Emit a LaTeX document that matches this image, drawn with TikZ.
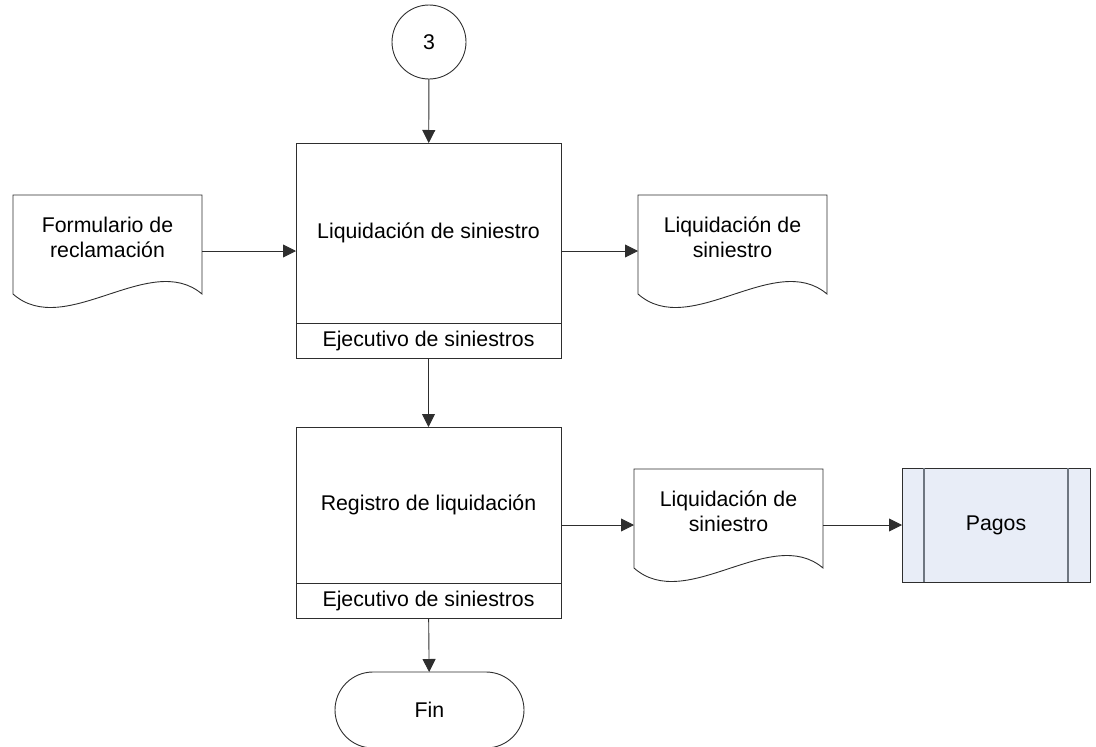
\documentclass[tikz,border=0pt]{standalone}
\usepackage{fontspec}
\setmainfont{Liberation Sans}
\usetikzlibrary{arrows.meta,positioning,shapes.misc}

\definecolor{linea}{HTML}{2E2E2E}
\definecolor{relleno}{HTML}{E8EDF7}
\definecolor{divisor}{HTML}{6E7680}

\tikzset{
  base/.style={draw=linea, line width=0.9pt, font=\fontsize{21.3}{25}\selectfont,
    align=center, inner sep=0pt, outer sep=0pt},
  proceso/.style={base, minimum width=265pt},
  rol/.style={base, minimum width=265pt, minimum height=35pt},
  documento/.style={base, draw=none, minimum width=189pt, minimum height=112pt, text depth=28pt},
  conector/.style={base, circle, minimum size=74pt},
  terminal/.style={base, rounded rectangle, minimum width=189pt, minimum height=76pt},
  subproceso/.style={base, fill=relleno, minimum width=188pt, minimum height=114pt},
  flecha/.style={draw=linea, line width=0.9pt, -{Triangle[length=13pt,width=13pt]}}
}

\begin{document}
\begin{tikzpicture}[x=1pt, y=-1pt]
        \useasboundingbox (0,0) rectangle (1096,747);

        % Shapes
        \node[conector] (tres) at (429,42) {3};
        \node[proceso, minimum height=180pt] (liq) at (428.5,233) {Liquidación de siniestro};
        \node[rol, below=0pt of liq] (liqrol) {Ejecutivo de siniestros};
        \node[documento] (form) at (107.5,251) {Formulario de\\reclamación};
        \node[documento] (liqdoc) at (732.5,251) {Liquidación de\\siniestro};
        \node[proceso, minimum height=156pt] (reg) at (428.5,505) {Registro de liquidación};
        \node[rol, below=0pt of reg] (regrol) {Ejecutivo de siniestros};
        \node[documento] (regdoc) at (728.5,525) {Liquidación de\\siniestro};
        \node[subproceso] (pagos) at (996,525) {Pagos};
        \node[terminal] (fin) at (429.5,710) {Fin};

        % Document outlines with wavy bottom
        \foreach \d in {form, liqdoc, regdoc}
          \draw[linea, line width=0.9pt] ([yshift=13pt]\d.south west) -- (\d.north west)
            -- (\d.north east) -- ([yshift=13pt]\d.south east)
            .. controls ([shift={(-52pt,57pt)}]\d.south east) and ([shift={(52pt,-33pt)}]\d.south west)
            .. ([yshift=13pt]\d.south west);

        % Side bars of the predefined process
        \draw[divisor, line width=1.2pt] ([xshift=22pt]pagos.north west) -- ([xshift=22pt]pagos.south west);
        \draw[divisor, line width=1.2pt] ([xshift=-22pt]pagos.north east) -- ([xshift=-22pt]pagos.south east);

        % Arrows
        \draw[flecha] (tres) -- (liq);
        \draw[flecha] (form) -- (form -| liq.west);
        \draw[flecha] (liq.east |- liqdoc) -- (liqdoc);
        \draw[flecha] (liqrol) -- (reg);
        \draw[flecha] (reg.east |- regdoc) -- (regdoc);
        \draw[flecha] (regdoc) -- (pagos);
        \draw[flecha] (regrol) -- (fin);
      \end{tikzpicture}
\end{document}
